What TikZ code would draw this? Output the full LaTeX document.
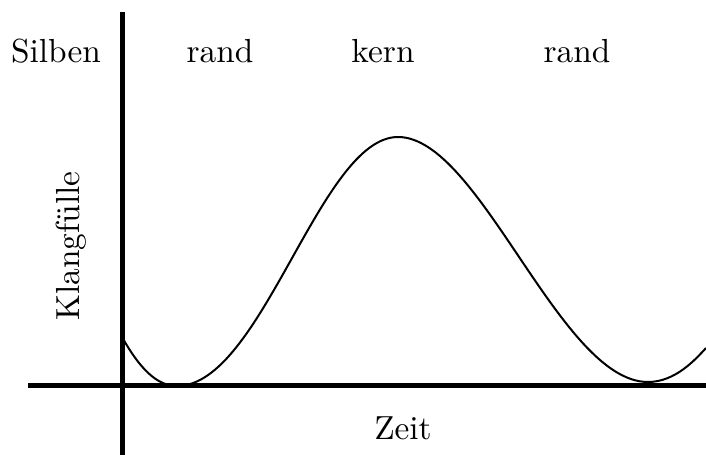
\documentclass[tikz,border=0pt]{standalone}
\usetikzlibrary{positioning}

\begin{document}
\begin{tikzpicture}[
    x=0.3pt, y=0.3pt,
    every node/.style={font=\normalsize, inner sep=0pt},
    achse/.style={line width=1.5pt},
    welle/.style={line width=0.6pt},
]
\useasboundingbox (0,0) rectangle (706,455);

% Achsen
\coordinate (yunten) at (122,0);
\coordinate (yoben) at (122,443);
\coordinate (xlinks) at (28,69);
\coordinate (xrechts) at (706,69);
\draw[achse] (yunten) -- (yoben);
\draw[achse] (xlinks) -- (xrechts);

% Klangfuelle ueber die Zeit
\coordinate (start) at (122,118);
\coordinate (tal1) at (177,69);
\coordinate (gipfel) at (398,318);
\coordinate (tal2) at (648,73);
\coordinate (ende) at (706,107);
\draw[welle] (start) .. controls (140,86) and (157,69) .. (tal1)
    .. controls (262,69) and (320,318) .. (gipfel)
    .. controls (480,318) and (560,73) .. (tal2)
    .. controls (675,73) and (695,95) .. (ende);

% Beschriftung
\node (silben) at (56,404) {Silben};
\node (rand1) at (220,404) {rand};
\node (kern) at (383,404) {kern};
\node (rand2) at (577,404) {rand};
\node[rotate=90] (klang) at (71,209) {Klangf\"ulle};
\node (zeit) at (403,27) {Zeit};
\end{tikzpicture}
\end{document}
